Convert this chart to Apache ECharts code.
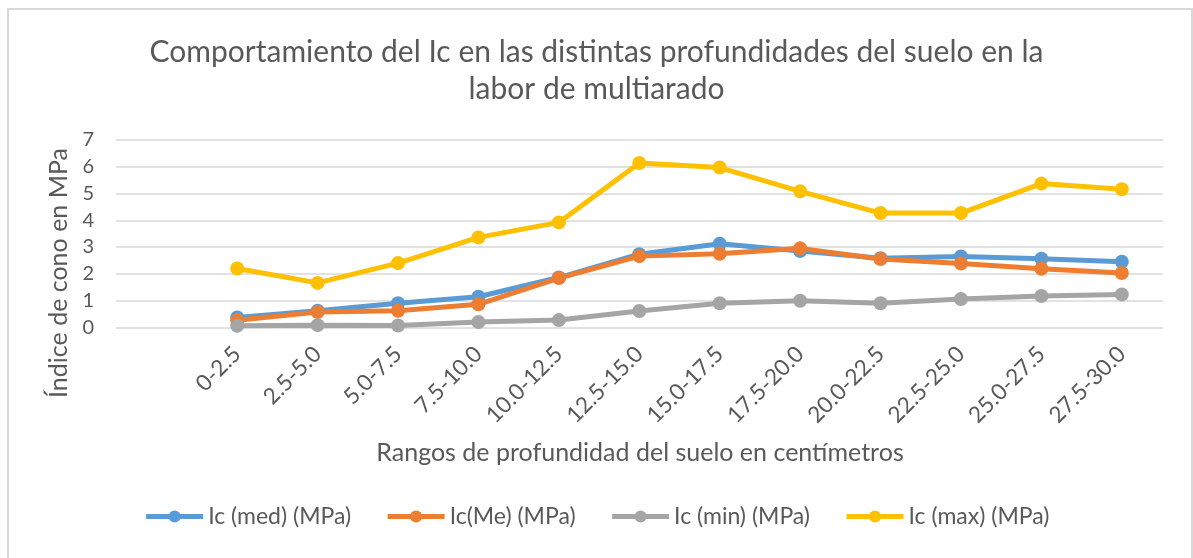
<!DOCTYPE html>
<html>
<head>
<meta charset="utf-8">
<script src="https://cdn.jsdelivr.net/npm/echarts@6/dist/echarts.min.js"></script>
<style>
html,body{margin:0;padding:0;background:#fff;}
#c{width:1193px;height:558px;}
</style>
</head>
<body>
<div id="c"></div>
<script>
const categories = ['0-2.5','2.5-5.0','5.0-7.5','7.5-10.0','10.0-12.5','12.5-15.0','15.0-17.5','17.5-20.0','20.0-22.5','22.5-25.0','25.0-27.5','27.5-30.0'];
const icMed = [0.37, 0.62, 0.90, 1.14, 1.86, 2.73, 3.12, 2.85, 2.58, 2.65, 2.56, 2.45];
const icMe  = [0.26, 0.57, 0.62, 0.86, 1.84, 2.66, 2.75, 2.95, 2.55, 2.38, 2.19, 2.03];
const icMin = [0.06, 0.08, 0.07, 0.20, 0.27, 0.61, 0.90, 0.99, 0.90, 1.06, 1.17, 1.23];
const icMax = [2.20, 1.66, 2.40, 3.36, 3.92, 6.14, 5.97, 5.08, 4.27, 4.27, 5.37, 5.16];
const yTicks = [0,1,2,3,4,5,6,7];

const FONT = 'Lato, "Open Sans", sans-serif';
const TXT = '#595959';
const chart = echarts.init(document.getElementById('c'));

function mkSeries(name, data, color){
  return {
    name, type:'line', data, xAxisIndex:1, yAxisIndex:1,
    symbol:'circle', symbolSize:14,
    lineStyle:{width:5, color}, itemStyle:{color},
    emphasis:{disabled:true}, animation:false
  };
}

chart.setOption({
  animation:false,
  title:{
    text:'Comportamiento del Ic en las distintas profundidades del suelo en la\nlabor de multiarado',
    left:'center', top:29,
    textStyle:{fontFamily:FONT, fontSize:30, fontWeight:'normal', color:TXT, lineHeight:37}
  },
  legend:{
    bottom:25, left:'center', itemGap:34, itemWidth:57, itemHeight:15,
    lineStyle:{width:5},
    textStyle:{fontFamily:FONT, fontSize:23, color:TXT},
    data:['Ic (med) (MPa)','Ic(Me) (MPa)','Ic (min) (MPa)','Ic (max) (MPa)']
  },
  graphic:[
    {type:'rect', shape:{x:8, y:9, width:1184, height:560},
     style:{fill:'none', stroke:'#d9d9d9', lineWidth:2}, silent:true},
    {type:'text', x:59, y:273, rotation:Math.PI/2,
     style:{text:'Índice de cono en MPa', font:'25px ' + FONT, fill:TXT, textAlign:'center', textVerticalAlign:'middle'}},
    {type:'text', x:640, y:453,
     style:{text:'Rangos de profundidad del suelo en centímetros', font:'25px ' + FONT, fill:TXT, textAlign:'center', textVerticalAlign:'middle'}}
  ],
  grid:[
    {left:116, right:30, top:140, bottom:230.7},
    {left:197, right:31, top:140, bottom:230.7}
  ],
  xAxis:[
    {gridIndex:0, type:'value', min:0, max:1, show:false},
    {gridIndex:1, type:'category', data:categories, boundaryGap:true,
     axisLine:{show:false}, axisTick:{show:false},
     axisLabel:{rotate:45, margin:23, fontFamily:FONT, fontSize:22.5, color:TXT, interval:0}
    }
  ],
  yAxis:[
    {gridIndex:0, type:'value', min:yTicks[0], max:yTicks[yTicks.length-1], interval:1,
     axisLine:{show:false}, axisTick:{show:false},
     axisLabel:{fontFamily:FONT, fontSize:20, color:TXT, margin:22},
     splitLine:{lineStyle:{color:'#d9d9d9', width:1.5}}
    },
    {gridIndex:1, type:'value', min:0, max:7, interval:1, show:false}
  ],
  series:[
    mkSeries('Ic (med) (MPa)', icMed, '#5b9bd5'),
    mkSeries('Ic(Me) (MPa)', icMe, '#ed7d31'),
    mkSeries('Ic (min) (MPa)', icMin, '#a5a5a5'),
    mkSeries('Ic (max) (MPa)', icMax, '#ffc000')
  ]
});
</script>
</body>
</html>
